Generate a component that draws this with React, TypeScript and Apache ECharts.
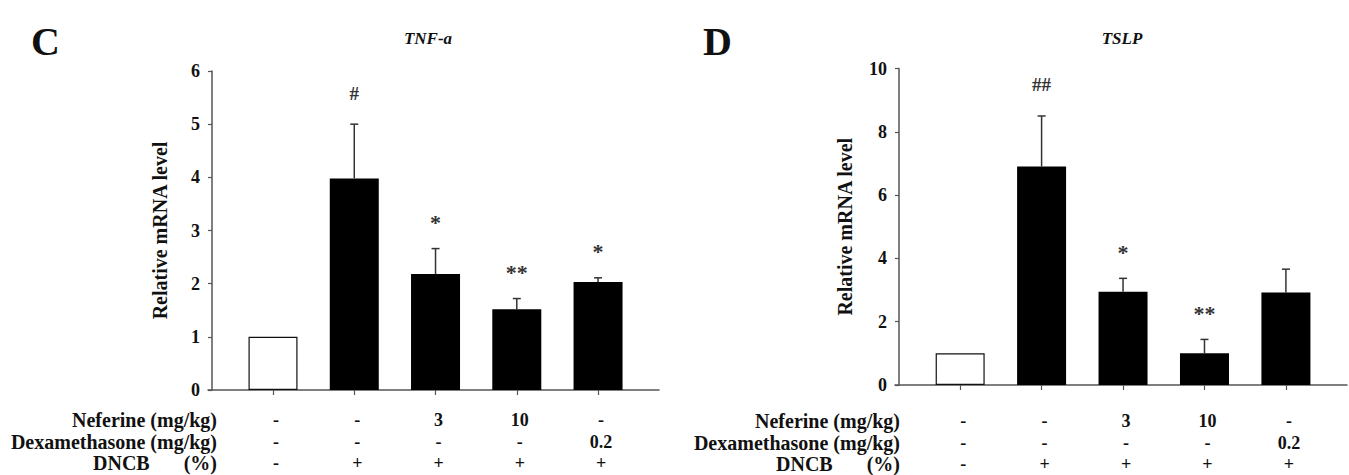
import React, { useEffect, useRef } from "react";
import * as echarts from "echarts";

// ---- data ----
const groups = ["Control", "DNCB", "DNCB + Neferine 3", "DNCB + Neferine 10", "DNCB + Dexamethasone 0.2"];
const tnfMeans = [1.0, 3.98, 2.18, 1.52, 2.03];
const tnfErrors = [0, 1.02, 0.48, 0.2, 0.08];
const tnfMarks = ["", "#", "*", "**", "*"];
const tslpMeans = [1.0, 6.9, 2.95, 1.0, 2.92];
const tslpErrors = [0, 1.6, 0.42, 0.44, 0.74];
const tslpMarks = ["", "##", "*", "**", ""];
const neferineRow = ["-", "-", "3", "10", "-"];
const dexamethasoneRow = ["-", "-", "-", "-", "0.2"];
const dncbRow = ["-", "+", "+", "+", "+"];
const tnfTicks = { min: 0, max: 6, interval: 1 };
const tslpTicks = { min: 0, max: 10, interval: 2 };

const SERIF = "'Liberation Serif', 'Times New Roman', serif";
const AXIS_COLOR = "#555";
const TEXT_COLOR = "#111";

export default function App() {
  const ref = useRef<HTMLDivElement>(null);

  useEffect(() => {
    if (!ref.current) return;
    const chart = echarts.init(ref.current, null, { renderer: "svg" });

    const idx = groups.map((_, i) => i);
    const grids = [
      { left: 208, top: 71, width: 451, height: 319 },
      { left: 895, top: 68.5, width: 452, height: 316.5 },
    ];
    const xMin = -0.8;
    const xMax = 4.75;
    const rowOffsets = [
      [30, 52, 73],
      [36, 58, 79],
    ];
    const rows = [neferineRow, dexamethasoneRow, dncbRow];
    const rowNames = ["Neferine (mg/kg)", "Dexamethasone (mg/kg)", "{a|DNCB}(%)"];

    const xAxes: any[] = [];
    const yAxes: any[] = [];
    const series: any[] = [];

    [0, 1].forEach((g) => {
      xAxes.push({
        type: "value",
        gridIndex: g,
        min: xMin,
        max: xMax,
        splitLine: { show: false },
        axisLine: { show: true, onZero: false, lineStyle: { color: AXIS_COLOR, width: 1.5 } },
        axisTick: { show: true, customValues: idx, length: 5, lineStyle: { color: AXIS_COLOR, width: 1.2 } },
        axisLabel: { show: false },
      });
      rows.forEach((row, r) => {
        xAxes.push({
          type: "value",
          gridIndex: g,
          position: "bottom",
          offset: rowOffsets[g][r],
          min: xMin,
          max: xMax,
          splitLine: { show: false },
          axisLine: { show: false, onZero: false },
          axisTick: { show: false },
          name: rowNames[r],
          nameLocation: "start",
          nameGap: g === 0 ? -9 : -5,
          nameTextStyle: {
            fontFamily: SERIF,
            fontWeight: "bold",
            fontSize: 20,
            color: TEXT_COLOR,
            align: "right",
            verticalAlign: "middle",
            rich: {
              a: { fontFamily: SERIF, fontWeight: "bold", fontSize: 20, color: TEXT_COLOR, padding: [0, 34, 0, 0] },
            },
          },
          axisLabel: {
            show: true,
            customValues: idx,
            margin: 0,
            verticalAlign: "middle",
            fontFamily: SERIF,
            fontWeight: "bold",
            fontSize: 18,
            color: TEXT_COLOR,
            padding: [0, 0, 0, 6],
            formatter: (v: number) => row[Math.round(v)] ?? "",
          },
        });
      });
      const ticks = g === 0 ? tnfTicks : tslpTicks;
      yAxes.push({
        type: "value",
        gridIndex: g,
        min: ticks.min,
        max: ticks.max,
        interval: ticks.interval,
        offset: -4,
        splitLine: { show: false },
        axisLine: { show: true, onZero: false, lineStyle: { color: AXIS_COLOR, width: 1.5 } },
        axisTick: { show: true, length: 4, lineStyle: { color: AXIS_COLOR, width: 1.2 } },
        axisLabel: {
          margin: 12,
          fontFamily: SERIF,
          fontWeight: "bold",
          fontSize: 18,
          color: TEXT_COLOR,
        },
        name: "Relative mRNA level",
        nameLocation: "middle",
        nameRotate: 90,
        nameGap: g === 0 ? 42 : 44,
        nameTextStyle: { fontFamily: SERIF, fontWeight: "bold", fontSize: 20, color: TEXT_COLOR },
      });
    });

    const panels = [
      { means: tnfMeans, errors: tnfErrors, marks: tnfMarks },
      { means: tslpMeans, errors: tslpErrors, marks: tslpMarks },
    ];

    panels.forEach((p, g) => {
      const xAxisIndex = g * 4;
      series.push({
        type: "bar",
        xAxisIndex,
        yAxisIndex: g,
        barWidth: 49,
        data: p.means.map((v, i) => ({
          value: [i, v],
          itemStyle:
            i === 0
              ? { color: "#ffffff", borderColor: "#111", borderWidth: 1.2 }
              : { color: "#000000" },
        })),
      });
      series.push({
        type: "custom",
        xAxisIndex,
        yAxisIndex: g,
        data: p.means.map((v, i) => [i, v, p.errors[i]]),
        z: 5,
        renderItem: (params: any, api: any) => {
          const x = api.value(0);
          const m = api.value(1);
          const e = api.value(2);
          const base = api.coord([x, m]);
          const top = api.coord([x, m + e]);
          const children: any[] = [];
          if (e > 0) {
            children.push({
              type: "line",
              shape: { x1: base[0], y1: base[1], x2: top[0], y2: top[1] },
              style: { stroke: "#333", lineWidth: 1.5 },
            });
            children.push({
              type: "line",
              shape: { x1: top[0] - 4, y1: top[1], x2: top[0] + 4, y2: top[1] },
              style: { stroke: "#333", lineWidth: 1.5 },
            });
          }
          const mark = p.marks[params.dataIndex];
          if (mark) {
            const star = mark.indexOf("*") >= 0;
            children.push({
              type: "text",
              x: top[0],
              y: top[1] - (star ? 26 : 31),
              style: {
                text: mark,
                align: "center",
                verticalAlign: "middle",
                fontFamily: SERIF,
                fontSize: star ? 22 : 19,
                fontWeight: "bold",
                fill: "#333",
              },
            });
          }
          return { type: "group", children };
        },
      });
    });

    const option: any = {
      animation: false,
      backgroundColor: "#ffffff",
      grid: grids.map((g) => ({ ...g, containLabel: false })),
      xAxis: xAxes,
      yAxis: yAxes,
      series,
      graphic: [
        { type: "text", x: 31, y: 41, style: { text: "C", fontFamily: SERIF, fontWeight: "bold", fontSize: 40, fill: "#111", verticalAlign: "middle" } },
        { type: "text", x: 703, y: 41, style: { text: "D", fontFamily: SERIF, fontWeight: "bold", fontSize: 40, fill: "#111", verticalAlign: "middle" } },
        { type: "text", x: 428, y: 38, style: { text: "TNF-a", fontFamily: SERIF, fontWeight: "bold", fontStyle: "italic", fontSize: 17, fill: "#111", align: "center", verticalAlign: "middle" } },
        { type: "text", x: 1122, y: 38, style: { text: "TSLP", fontFamily: SERIF, fontWeight: "bold", fontStyle: "italic", fontSize: 17, fill: "#111", align: "center", verticalAlign: "middle" } },
      ],
    };

    chart.setOption(option);
    return () => chart.dispose();
  }, []);

  return (
    <div
      ref={ref}
      style={{ position: "fixed", left: 0, top: 0, width: 1349, height: 475, background: "#fff" }}
    />
  );
}
